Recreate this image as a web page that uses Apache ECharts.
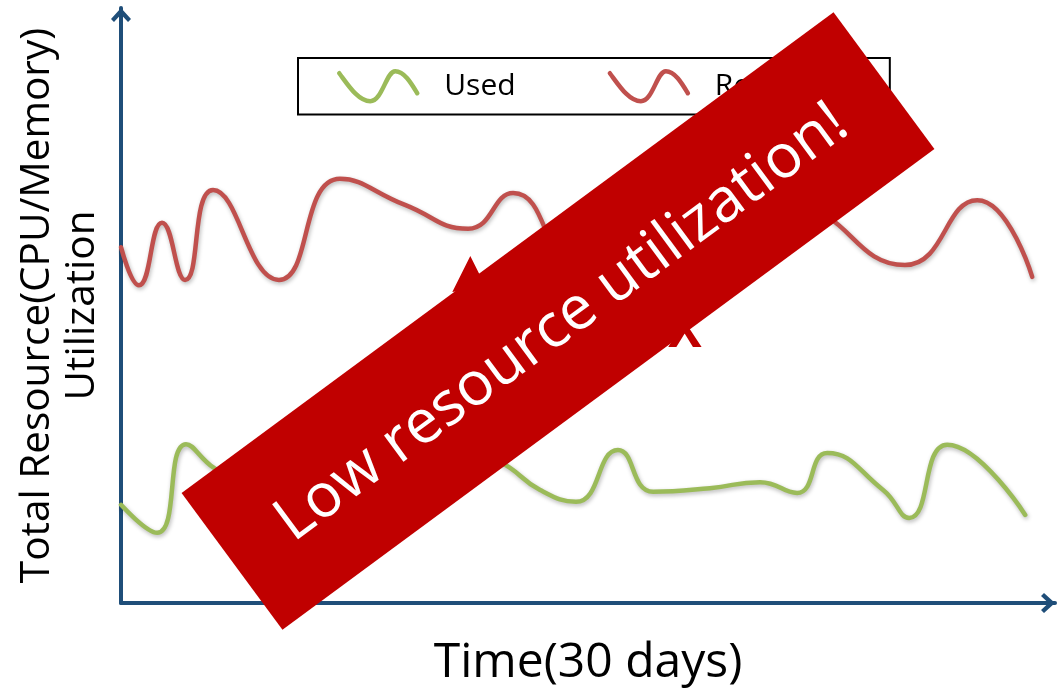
<!DOCTYPE html>
<html>
<head>
<meta charset="utf-8">
<script src="https://cdn.jsdelivr.net/npm/echarts@6/dist/echarts.min.js"></script>
<style>
  html, body { margin: 0; padding: 0; background: #fff; }
  #chart { width: 1060px; height: 692px; }
</style>
</head>
<body>
<div id="chart"></div>
<script>
// Days over the 30-day window (x) and utilization level (y, 0-100)
const usedDays = [0, 1.19, 2.14, 3.06, 4.58, 6.88, 9.19, 11.49, 12.48, 13.8, 14.98, 16.36, 17.52, 19.39, 21.04, 22.26, 23.25, 25.09, 25.95, 27.2, 29.77];
const usedValues = [16.5, 11.8, 26.7, 22.7, 18.2, 20.7, 17.6, 24.9, 23.7, 19.0, 17.0, 25.7, 18.7, 19.3, 20.3, 18.5, 25.2, 19.0, 14.3, 26.6, 14.8];

const reservedDays = [0, 0.59, 1.35, 2.11, 3.03, 5.2, 7.21, 9.35, 11.43, 12.91, 15.11, 17.75, 20.05, 22.19, 25.81, 28.19, 30];
const reservedValues = [59.8, 53.4, 63.9, 54.3, 69.4, 54.3, 71.3, 66.9, 62.9, 68.9, 56.3, 65.2, 59.3, 66.4, 56.8, 67.7, 54.8];

const seriesNames = ['Used', 'Reserved'];
const xTitle = 'Time(30 days)';
const yTitle = 'Total Resource(CPU/Memory)\nUtilization';
const bannerText = 'Low resource utilization!';
const gapLabel = 'X';

// Gap annotation between the reserved and used curves (in data units)
const gapDay = 11.5;
const gapTop = 58.3;
const gapBottom = 22;
const gapLabelDay = 18.57;
const gapLabelValue = 45.5;

const FONT = '"Open Sans", "Noto Sans", sans-serif';
const AXIS_BLUE = '#1F4E79';
const GREEN = '#9BBB59';
const RED = '#C0504D';
const BANNER_RED = '#C00000';

const zip = (xs, ys) => xs.map((x, i) => [x, ys[i]]);

// Open chevron arrow head pointing up (ECharts rotates it along the axis)
const chevron = 'path://M0,11 L10,0 L20,11 L17,14 L10,6.5 L3,14 Z';
// Small wave used as the legend icon
const wave = 'path://M0,2 C9,14 19,30 31,30 C43,30 47,0 56,0 C65,0 72,12 78,22';

const chart = echarts.init(document.getElementById('chart'), null, { renderer: 'canvas' });

const axisCommon = {
  type: 'value',
  axisTick: { show: false },
  axisLabel: { show: false },
  splitLine: { show: false },
  axisLine: {
    show: true,
    lineStyle: { color: AXIS_BLUE, width: 4 },
    symbol: ['none', chevron],
    symbolSize: [22, 14],
    symbolOffset: [0, -7]
  },
  nameLocation: 'middle',
  nameTextStyle: { color: '#000', fontFamily: FONT }
};

const lineSeries = (name, data, color) => ({
  name,
  type: 'line',
  data,
  smooth: 0.5,
  symbol: 'none',
  lineStyle: {
    color, width: 4.5, cap: 'round', join: 'round',
    shadowColor: 'rgba(0,0,0,0.28)', shadowBlur: 4, shadowOffsetX: 1, shadowOffsetY: 2
  },
  itemStyle: { color },
  z: 3
});

const legendItem = (name, color) => ({
  name,
  icon: wave,
  itemStyle: { color: 'transparent', borderColor: color, borderWidth: 4.5, borderCap: 'round' }
});

chart.setOption({
  animation: false,
  backgroundColor: '#fff',
  grid: { left: 121, right: 5, top: 8, bottom: 89, containLabel: false },
  xAxis: Object.assign({}, axisCommon, {
    min: 0, max: 30.75,
    name: xTitle,
    nameGap: 36,
    nameTextStyle: { color: '#000', fontFamily: FONT, fontSize: 48 }
  }),
  yAxis: Object.assign({}, axisCommon, {
    min: 0, max: 100,
    name: yTitle,
    nameGap: 16,
    nameTextStyle: { color: '#000', fontFamily: FONT, fontSize: 40.5, lineHeight: 45 }
  }),
  legend: {
    left: 298, top: 58,
    orient: 'horizontal',
    padding: [11, 46, 11, 39],
    borderColor: '#000', borderWidth: 2,
    itemWidth: 78, itemHeight: 30, itemGap: 92,
    selectedMode: false,
    textStyle: { color: '#000', fontFamily: FONT, fontSize: 30, padding: [0, 0, 0, 22] },
    data: [legendItem(seriesNames[0], GREEN), legendItem(seriesNames[1], RED)]
  },
  series: [
    lineSeries(seriesNames[0], zip(usedDays, usedValues), GREEN),
    lineSeries(seriesNames[1], zip(reservedDays, reservedValues), RED)
  ]
});

// Annotations: gap arrow and ratio label, then the rotated banner on top
const toPx = (d, v) => chart.convertToPixel({ gridIndex: 0 }, [d, v]);
const arrowTop = toPx(gapDay, gapTop);
const arrowBottom = toPx(gapDay, gapBottom);
const head = 36, half = 18, shaft = 5;
const labelPt = toPx(gapLabelDay, gapLabelValue);

chart.setOption({
  graphic: [
    {
      type: 'polygon', z: 50,
      shape: {
        points: [
          [arrowTop[0], arrowTop[1]],
          [arrowTop[0] + half, arrowTop[1] + head],
          [arrowTop[0] + shaft, arrowTop[1] + head - 2],
          [arrowBottom[0] + shaft, arrowBottom[1] - head + 2],
          [arrowBottom[0] + half, arrowBottom[1] - head],
          [arrowBottom[0], arrowBottom[1]],
          [arrowBottom[0] - half, arrowBottom[1] - head],
          [arrowBottom[0] - shaft, arrowBottom[1] - head + 2],
          [arrowTop[0] - shaft, arrowTop[1] + head - 2],
          [arrowTop[0] - half, arrowTop[1] + head]
        ]
      },
      style: { fill: BANNER_RED }
    },
    {
      type: 'text', z: 50,
      x: labelPt[0], y: labelPt[1],
      style: {
        text: gapLabel, fill: BANNER_RED, font: 'bold 50px ' + FONT,
        align: 'center', verticalAlign: 'middle'
      }
    },
    {
      type: 'group', z: 100,
      x: 558, y: 321,
      rotation: 36.4 * Math.PI / 180,
      children: [
        {
          type: 'rect', z: 100,
          shape: { x: -405, y: -85, width: 810, height: 170 },
          style: { fill: BANNER_RED }
        },
        {
          type: 'text', z: 101,
          x: 2, y: 4,
          style: {
            text: bannerText, fill: '#fff', font: '61px ' + FONT,
            align: 'center', verticalAlign: 'middle'
          }
        }
      ]
    }
  ]
});
</script>
</body>
</html>
